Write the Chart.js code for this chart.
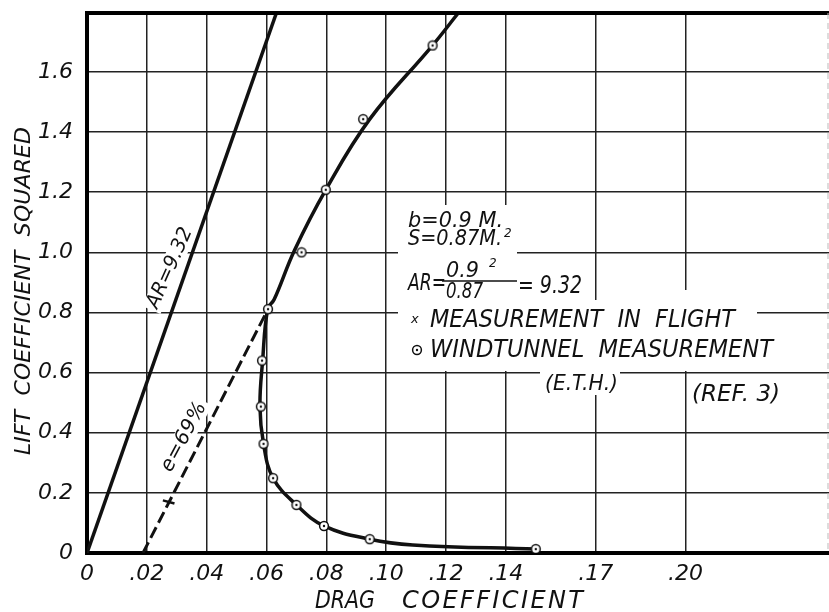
<!DOCTYPE html>
<html>
<head>
<meta charset="utf-8">
<script src="https://cdn.jsdelivr.net/npm/chart.js@4.4.0/dist/chart.umd.min.js"></script>
<style>
  html, body { margin: 0; padding: 0; background: #fff; overflow: hidden; }
  canvas { display: block; }
</style>
</head>
<body>
<canvas id="polarChart" width="829" height="612"></canvas>
<script>
const FONT = "'DejaVu Sans', sans-serif";

// axis ticks (the original sheet jumps from .14 to .17 to .20)
const dragTicks = [0, 0.02, 0.04, 0.06, 0.08, 0.10, 0.12, 0.14, 0.17, 0.20];
const liftTicks = [0, 0.2, 0.4, 0.6, 0.8, 1.0, 1.2, 1.4, 1.6];

// wind tunnel measurement (E.T.H.), drag coefficient vs lift coefficient squared
const tunnelCD  = [0.1155, 0.0923, 0.0798, 0.0717, 0.0605, 0.0585, 0.0581, 0.0590, 0.0622, 0.0700, 0.0792, 0.0945, 0.150];
const tunnelCL2 = [1.688, 1.443, 1.208, 1.000, 0.811, 0.640, 0.487, 0.363, 0.249, 0.160, 0.090, 0.046, 0.013];

// faired curve as drawn on the sheet, from where it leaves the frame at the top
const curveCD  = [0.1241, 0.1153, 0.0945, 0.0798, 0.0694, 0.0625, 0.0604, 0.0587, 0.0578, 0.0590, 0.0622, 0.0700, 0.0792, 0.0945, 0.1089, 0.150];
const curveCL2 = [1.796, 1.686, 1.443, 1.208, 1.008, 0.842, 0.812, 0.640, 0.487, 0.363, 0.249, 0.160, 0.090, 0.046, 0.027, 0.013];

// measurement in flight
const flightCD  = [0.0273];
const flightCL2 = [0.170];

// ideal polar AR = 9.32
const arCD  = [0, 0.0633];
const arCL2 = [0, 1.796];

// e = 69% line
const effCD  = [0.0187, 0.0605];
const effCL2 = [0, 0.811];

const pts = (xs, ys) => xs.map((x, i) => ({ x: x, y: ys[i] }));

// circle with a dot for the tunnel points
const ring = document.createElement('canvas');
ring.width = 12; ring.height = 12;
const rc = ring.getContext('2d');
rc.fillStyle = '#fff';
rc.strokeStyle = '#111';
rc.lineWidth = 1.5;
rc.beginPath(); rc.arc(6, 6, 4.4, 0, Math.PI * 2); rc.fill(); rc.stroke();
rc.fillStyle = '#111';
rc.beginPath(); rc.arc(6, 6, 1.2, 0, Math.PI * 2); rc.fill();

// draws italic text stretched/squeezed to a given width
function fitText(ctx, str, x, y, size, width, opts) {
  opts = opts || {};
  ctx.save();
  ctx.font = 'italic ' + size + 'px ' + FONT;
  ctx.fillStyle = '#111';
  ctx.textAlign = 'left';
  ctx.textBaseline = opts.baseline || 'alphabetic';
  ctx.letterSpacing = '0px';
  const w = ctx.measureText(str).width;
  const target = width || w;
  let sx = 1, ls = 0;
  if (target < w) sx = target / w;
  else if (str.length > 1) ls = (target - w) / (str.length - 1);
  ctx.translate(x, y);
  if (opts.rotate) ctx.rotate(opts.rotate);
  ctx.scale(sx, 1);
  ctx.letterSpacing = ls + 'px';
  const x0 = opts.center ? -(w + ls * (str.length - 1)) / 2 : 0;
  ctx.fillText(str, x0, 0);
  ctx.restore();
}

function whiteBox(ctx, cx, cy, w, h, angle) {
  ctx.save();
  ctx.translate(cx, cy);
  ctx.rotate(angle || 0);
  ctx.fillStyle = '#fff';
  ctx.fillRect(-w / 2, -h / 2, w, h);
  ctx.restore();
}

const notesPlugin = {
  id: 'notes',
  beforeDatasetsDraw(chart) {
    const { ctx } = chart;
    ctx.save();
    // paper showing through the grid behind the lettering
    ctx.fillStyle = '#fff';
    ctx.fillRect(398, 205, 119, 95);
    ctx.fillRect(398, 258, 190, 42);
    ctx.fillRect(398, 300, 359, 71);
    ctx.fillRect(600, 290, 157, 10);
    ctx.fillRect(540, 371, 80, 24);
    whiteBox(ctx, 170, 268, 92, 20, -66 * Math.PI / 180);
    whiteBox(ctx, 184, 437, 82, 20, -62 * Math.PI / 180);

    fitText(ctx, 'b=0.9 M.', 408, 227, 22, 95);
    fitText(ctx, 'S=0.87M.', 408, 245, 22, 94);
    fitText(ctx, '2', 504, 237, 12);
    fitText(ctx, 'AR=', 408, 290, 23, 38);
    fitText(ctx, '0.9', 446, 277, 21, 33);
    fitText(ctx, '2', 489, 267, 12);
    ctx.strokeStyle = '#111';
    ctx.lineWidth = 1.5;
    ctx.beginPath(); ctx.moveTo(442, 281); ctx.lineTo(517, 281); ctx.stroke();
    fitText(ctx, '0.87', 446, 298, 21, 37);
    fitText(ctx, '= 9.32', 518, 293, 24, 64);

    fitText(ctx, 'x', 411, 323, 13);
    fitText(ctx, 'MEASUREMENT  IN  FLIGHT', 430, 327, 24, 305);
    ctx.drawImage(ring, 411, 344);
    fitText(ctx, 'WINDTUNNEL  MEASUREMENT', 430, 357, 24, 343);
    fitText(ctx, '(E.T.H.)', 545, 390, 21, 73);
    fitText(ctx, '(REF. 3)', 692, 401, 23, 88);

    fitText(ctx, 'AR=9.32', 170, 268, 20, 86, { rotate: -66 * Math.PI / 180, center: true, baseline: 'middle' });
    fitText(ctx, 'e=69%', 184, 437, 20, 76, { rotate: -62 * Math.PI / 180, center: true, baseline: 'middle' });

    // axis titles
    fitText(ctx, 'DRAG', 315, 608, 24, 60);
    fitText(ctx, 'COEFFICIENT', 402, 608, 24, 181);
    fitText(ctx, 'LIFT  COEFFICIENT  SQUARED', 24, 291, 22, 328, { rotate: -Math.PI / 2, center: true, baseline: 'middle' });
    ctx.restore();
  },
  afterDraw(chart) {
    const { ctx, chartArea: a } = chart;
    ctx.save();
    ctx.strokeStyle = '#000';
    ctx.lineWidth = 4;
    ctx.beginPath();
    ctx.moveTo(a.left - 2, a.top);
    ctx.lineTo(a.right, a.top);
    ctx.stroke();
    ctx.strokeStyle = '#bbb';
    ctx.lineWidth = 1;
    ctx.setLineDash([6, 4]);
    ctx.beginPath();
    ctx.moveTo(a.right - 1, a.top);
    ctx.lineTo(a.right - 1, a.bottom);
    ctx.stroke();
    ctx.restore();
  }
};

new Chart(document.getElementById('polarChart'), {
  type: 'scatter',
  data: {
    datasets: [
      {
        label: 'Windtunnel measurement',
        data: pts(tunnelCD, tunnelCL2),
        pointStyle: ring,
        pointRadius: 6,
        showLine: false,
        order: 0
      },
      {
        label: 'Measurement in flight',
        data: pts(flightCD, flightCL2),
        pointStyle: 'line',
        pointRadius: 6,
        pointRotation: 15,
        borderColor: '#111',
        borderWidth: 2.5,
        showLine: false,
        order: 1
      },
      {
        label: 'Faired curve',
        data: pts(curveCD, curveCL2),
        showLine: true,
        borderColor: '#111',
        borderWidth: 3.5,
        tension: 0.4,
        pointRadius: 0,
        order: 2
      },
      {
        label: 'AR = 9.32',
        data: pts(arCD, arCL2),
        showLine: true,
        borderColor: '#111',
        borderWidth: 3.5,
        pointRadius: 0,
        order: 3
      },
      {
        label: 'e = 69%',
        data: pts(effCD, effCL2),
        showLine: true,
        borderColor: '#111',
        borderWidth: 3,
        borderDash: [12, 5],
        pointRadius: 0,
        order: 4
      }
    ]
  },
  options: {
    responsive: false,
    animation: false,
    layout: { autoPadding: false, padding: { top: 13, right: 0, left: 0, bottom: 0 } },
    plugins: {
      legend: { display: false },
      tooltip: { enabled: false }
    },
    scales: {
      x: {
        type: 'linear',
        min: 0,
        max: 0.248,
        afterBuildTicks: s => { s.ticks = dragTicks.map(v => ({ value: v })); },
        afterFit: s => { s.height = 59; s.paddingLeft = 0; s.paddingRight = 0; },
        ticks: {
          autoSkip: false,
          maxRotation: 0,
          padding: 8,
          color: '#111',
          font: { family: FONT, size: 22, style: 'italic' },
          callback: v => v === 0 ? '0' : v.toFixed(2).replace(/^0/, '')
        },
        grid: { color: '#222', lineWidth: 1.5, drawTicks: false },
        border: { color: '#000', width: 4 }
      },
      y: {
        type: 'linear',
        min: 0,
        max: 1.796,
        afterBuildTicks: s => { s.ticks = liftTicks.map(v => ({ value: v })); },
        afterFit: s => { s.width = 87; s.paddingTop = 0; s.paddingBottom = 0; },
        ticks: {
          padding: 14,
          color: '#111',
          font: { family: FONT, size: 22, style: 'italic' },
          callback: v => v === 0 ? '0' : v.toFixed(1)
        },
        grid: { color: '#222', lineWidth: 1.5, drawTicks: false },
        border: { color: '#000', width: 4 }
      }
    }
  },
  plugins: [notesPlugin]
});
</script>
</body>
</html>
